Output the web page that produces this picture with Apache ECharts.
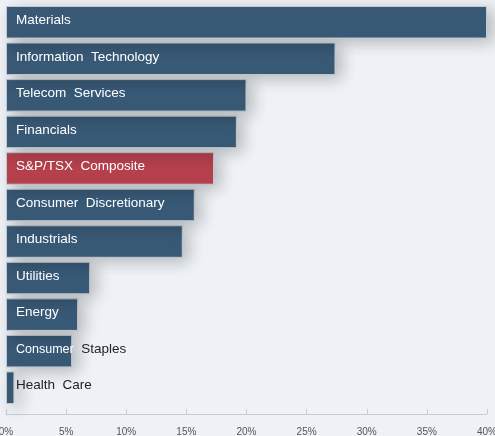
<!DOCTYPE html>
<html>
<head>
<meta charset="utf-8">
<style>
  html, body { margin: 0; padding: 0; background: #eef2f6; }
  #chart { width: 495px; height: 436px; }
</style>
<script src="https://cdn.jsdelivr.net/npm/echarts@6/dist/echarts.min.js"></script>
</head>
<body>
<div id="chart"></div>
<script>
// Sector returns, top to bottom
const categories = [
  'Materials', 'Information Technology', 'Telecom Services', 'Financials',
  'S&P/TSX Composite', 'Consumer Discretionary', 'Industrials', 'Utilities',
  'Energy', 'Consumer Staples', 'Health Care'
];
const returns = [40.0, 27.4, 20.0, 19.2, 17.3, 15.7, 14.7, 7.0, 6.0, 5.5, 0.7];
const xTicks = [0, 5, 10, 15, 20, 25, 30, 35, 40];
const highlight = 'S&P/TSX Composite';

const BLUE = '#395a76';
const RED = '#b6414d';
const FONT = 'Liberation Sans, Arial, sans-serif';

const chart = echarts.init(document.getElementById('chart'), null, { renderer: 'canvas' });

// category axis runs bottom-up, so reverse to keep Materials on top
const cats = categories.slice().reverse();
const vals = returns.slice().reverse();

const spaced = s => s.split(' ').join('  ');

const data = cats.map((name, i) => {
  const item = {
    value: vals[i],
    itemStyle: { color: name === highlight ? RED : BLUE }
  };
  if (name === 'Consumer Staples') {
    item.label = { formatter: '{w|Consumer}  {d|Staples}' };
  } else if (name === 'Health Care') {
    item.label = { color: '#222' };
  }
  return item;
});

chart.setOption({
  backgroundColor: '#eef2f6',
  animation: false,
  grid: {
    left: 6, right: 8, top: 4, bottom: 30,
    containLabel: false,
    outerBoundsMode: 'none'
  },
  xAxis: {
    type: 'value',
    min: xTicks[0],
    max: xTicks[xTicks.length - 1],
    interval: 5,
    offset: 8,
    axisLine: { show: true, lineStyle: { color: '#c6ccd3', width: 1 } },
    axisTick: { show: true, inside: true, length: 5, lineStyle: { color: '#c6ccd3' } },
    splitLine: { show: false },
    axisLabel: {
      formatter: '{value}%',
      color: '#555',
      fontSize: 10,
      fontFamily: FONT,
      margin: 13
    }
  },
  yAxis: {
    type: 'category',
    data: cats,
    axisLine: { show: false },
    axisTick: { show: false },
    axisLabel: { show: false }
  },
  series: [{
    type: 'bar',
    data: data,
    barCategoryGap: '11%',
    itemStyle: {
      borderColor: '#c3cad2',
      borderWidth: 1,
      shadowBlur: 16,
      shadowOffsetX: 6,
      shadowOffsetY: 4,
      shadowColor: 'rgba(0,0,0,0.24)'
    },
    label: {
      show: true,
      position: 'insideLeft',
      distance: 10,
      offset: [0, -2],
      color: '#ffffff',
      fontSize: 13.5,
      fontFamily: FONT,
      formatter: p => spaced(p.name),
      rich: {
        w: { color: '#ffffff', fontSize: 12.5, fontFamily: FONT },
        d: { color: '#222222', fontSize: 13.5, fontFamily: FONT }
      }
    }
  }]
});
</script>
</body>
</html>
